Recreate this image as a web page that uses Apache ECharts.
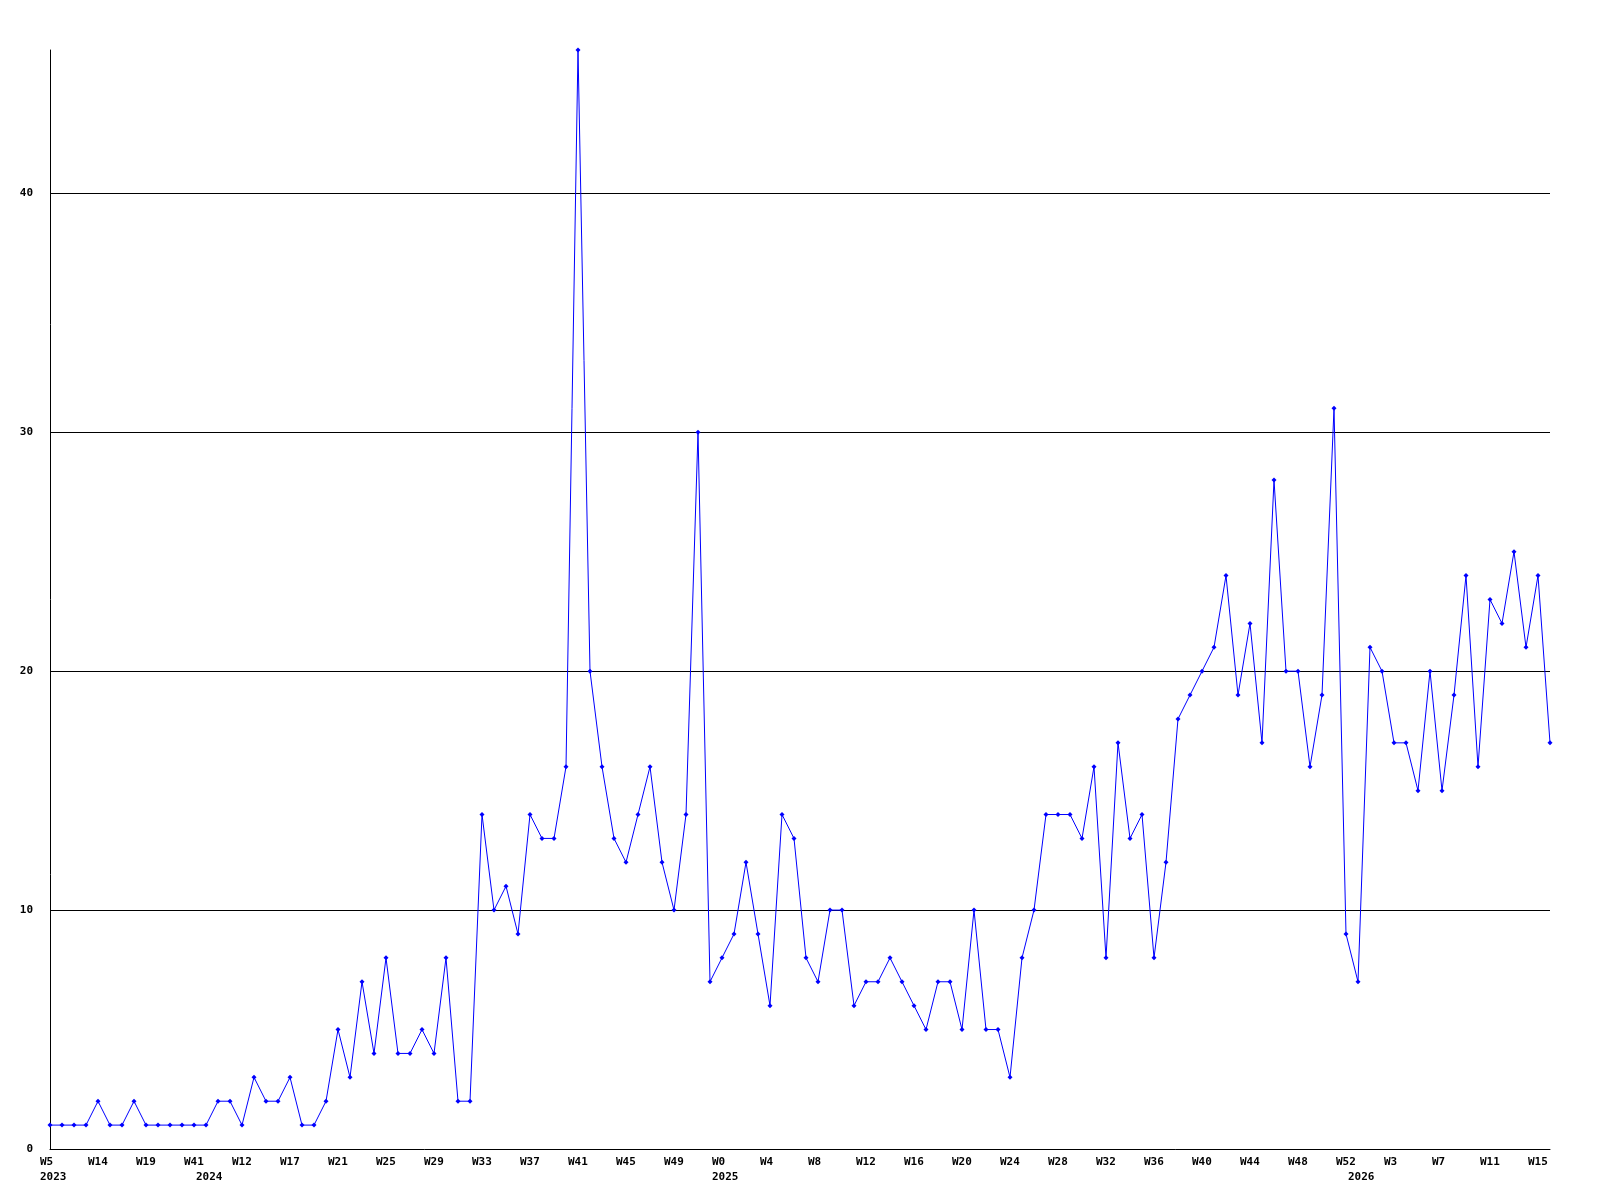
<!DOCTYPE html>
<html>
<head>
<meta charset="utf-8">
<script src="https://cdn.jsdelivr.net/npm/echarts@6/dist/echarts.min.js"></script>
<style>
html,body{margin:0;padding:0;background:#fff;}
#chart{width:1600px;height:1200px;}
</style>
</head>
<body>
<div id="chart"></div>
<script>
// weekly values, one per point (126 points)
const values = [
  1,1,1,1,2,1,1,2,1,1,1,1,1,1,2,2,1,3,2,2,3,1,1,2,5,3,7,4,8,4,4,5,4,8,2,2,
  14,10,11,9,14,13,13,16,46,20,16,13,12,14,16,12,10,14,30,7,8,9,12,9,
  6,14,13,8,7,10,10,6,7,7,8,7,6,5,7,7,5,10,5,5,3,8,10,14,14,14,13,16,
  8,17,13,14,8,12,18,19,20,21,24,19,22,17,28,20,20,16,19,31,9,7,21,20,17,17,15,20,15,19,24,16,23,22,25,21,24,17
];
// week tick labels, one every 4th point
const weekLabels = ['W5','W14','W19','W41','W12','W17','W21','W25','W29','W33','W37','W41','W45','W49',
  'W0','W4','W8','W12','W16','W20','W24','W28','W32','W36','W40','W44','W48','W52','W3','W7','W11','W15'];
// year labels and the point index where each year begins
const yearLabels = ['2023','2024','2025','2026'];
const yearStarts = [0, 13, 56, 109];
const yTicks = [0, 10, 20, 30, 40];

const categories = values.map((v, i) => String(i));
const font = '"DejaVu Sans Mono", "Liberation Mono", monospace';
const richA = {a: {width: 20, align: 'left', fontFamily: font, fontWeight: 'bold', fontSize: 11, color: '#000'}};

const chart = echarts.init(document.getElementById('chart'), null, {renderer: 'canvas'});
chart.setOption({
  animation: false,
  backgroundColor: '#fff',
  grid: {left: 50, right: 50, top: 50, bottom: 51, containLabel: false},
  xAxis: [{
    type: 'category',
    data: categories,
    boundaryGap: false,
    axisLine: {show: true, lineStyle: {color: '#000', width: 1}},
    axisTick: {show: false},
    splitLine: {show: false},
    axisLabel: {
      interval: 3,
      margin: 8,
      align: 'center',
      formatter: (v, i) => '{a|' + (weekLabels[Math.round(i / 4)] || '') + '}',
      rich: richA
    }
  }, {
    type: 'category',
    data: categories,
    boundaryGap: false,
    position: 'bottom',
    axisLine: {show: false},
    axisTick: {show: false},
    splitLine: {show: false},
    axisLabel: {
      interval: (i) => yearStarts.indexOf(i) >= 0,
      margin: 23,
      align: 'center',
      formatter: (v, i) => '{a|' + yearLabels[yearStarts.indexOf(i)] + '}',
      rich: richA
    }
  }],
  yAxis: {
    type: 'value',
    min: 0,
    max: 46,
    interval: 10,
    axisLine: {show: true, lineStyle: {color: '#000', width: 1}},
    axisTick: {show: false},
    splitLine: {show: true, showMinLine: false, showMaxLine: false, lineStyle: {color: '#000', width: 1}},
    axisLabel: {
      showMaxLabel: false,
      margin: 17,
      color: '#000',
      fontFamily: font,
      fontWeight: 'bold',
      fontSize: 11,
      formatter: (v) => yTicks.indexOf(v) >= 0 ? String(v) : ''
    }
  },
  series: [{
    type: 'line',
    data: values,
    xAxisIndex: 0,
    showAllSymbol: true,
    symbol: 'diamond',
    symbolSize: 5,
    itemStyle: {color: '#0000ff'},
    lineStyle: {color: '#0000ff', width: 1},
    clip: false
  }]
});
</script>
</body>
</html>
